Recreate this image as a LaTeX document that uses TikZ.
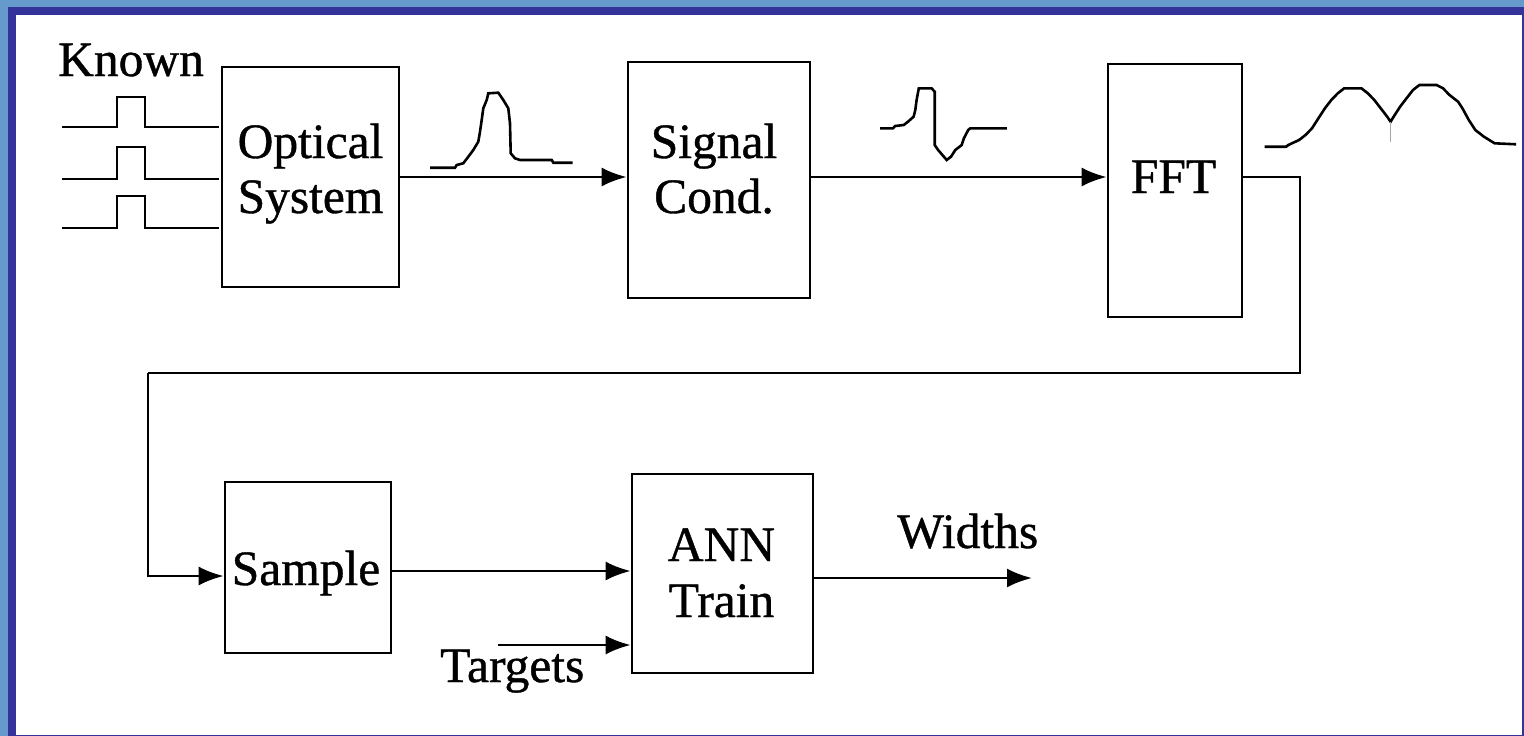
\documentclass[tikz,border=0pt]{standalone}
\usepackage{fontspec}
\setmainfont{Liberation Serif}[FakeBold=0.8]
\usetikzlibrary{arrows.meta}
\definecolor{lightblu}{HTML}{6699CC}
\definecolor{darkblu}{HTML}{333399}
\tikzset{
  blk/.style={draw=black, line width=2.7pt, inner sep=0pt, fill=none},
  lbl/.style={inner sep=0pt, anchor=base, font=\fontsize{49.5}{55}\selectfont},
  wire/.style={line width=2.6pt, draw=black},
  arr/.style={wire, -{Latex[length=25pt,width=19pt]}},
  wave/.style={line width=2.6pt, draw=black, line join=miter}
}
\begin{document}
\begin{tikzpicture}[x=1pt,y=-1pt]
% background frame
\fill[lightblu] (0,0) rectangle (1524,736);
\fill[darkblu] (8,7) rectangle (1524,736);
\fill[white] (16,15) rectangle (1521.8,734.6);
\useasboundingbox (0,0) rectangle (1524,736);

% blocks
\node[blk, minimum width=177pt, minimum height=220pt] (opt) at (310.5,177) {};
\node[blk, minimum width=182pt, minimum height=236pt] (sig) at (719,180) {};
\node[blk, minimum width=134pt, minimum height=253pt] (fft) at (1175,190.5) {};
\node[blk, minimum width=166pt, minimum height=171pt] (smp) at (308,567.5) {};
\node[blk, minimum width=181pt, minimum height=199pt] (ann) at (722.5,573.5) {};

% labels
\node[lbl] (tOpt1) at (310.5,158) {Optical};
\node[lbl] (tOpt2) at (310.5,213) {System};
\node[lbl] (tSig1) at (714,158) {Signal};
\node[lbl] (tSig2) at (714,213) {Cond.};
\node[lbl] (tFFT) at (1173.5,193) {FFT};
\node[lbl] (tSmp) at (306,585) {Sample};
\node[lbl] (tAnn1) at (721.5,561) {ANN};
\node[lbl] (tAnn2) at (721.5,617) {Train};
\node[lbl, anchor=base west] (known) at (58,76) {Known};
\node[lbl, anchor=base west] (widths) at (897,548) {Widths};
\node[lbl, anchor=base west] (targets) at (440,682) {Targets};

% input pulses
\foreach \yb/\yt in {127/97, 179/147, 228/196}{
  \draw[wave] (62,\yb) -- (117,\yb) -- (117,\yt) -- (145,\yt) -- (145,\yb) -- (219,\yb);
}

% connectors
\coordinate (c1) at (1300,373);
\coordinate (c2) at (148,373);
\coordinate (tgt) at (498,645);
\coordinate (wEnd) at (1032,578);
\draw[arr] (opt.east) -- (opt.east -| sig.west);
\draw[arr] (opt.east -| sig.east) -- (opt.east -| fft.west);
\draw[wire] (opt.east -| fft.east) -| (c1) -- (c2);
\draw[arr] (c2) |- ([yshift=-8.5pt]smp.west);
\draw[arr] ([yshift=-3.5pt]smp.east) -- ([yshift=2.5pt]ann.west);
\draw[arr] (tgt) -- (tgt -| ann.west);
\draw[arr] (ann.east |- wEnd) -- (wEnd);

% waveform 1: pulse
\draw[wave] (430,167.7) -- (455,167.7) -- (456.7,165) -- (463.3,163.3) -- (468.3,156.7) -- (473.3,150) -- (478.3,141.7) -- (480,131.7) -- (481.7,120) -- (483.3,108.3) -- (486.7,100) -- (488.3,93.3) -- (498.3,92.7) -- (503.3,100) -- (508.3,108.3) -- (510,123.3) -- (510.7,153.3) -- (515,158.3) -- (520,160) -- (551.7,160) -- (553.3,162.7) -- (572.7,162.7);

% waveform 2: conditioned signal
\draw[wave] (880.1,128.3) -- (893,128.3) -- (895.1,126) -- (903.7,125) -- (908,121.7) -- (913.6,116.7) -- (915.3,110) -- (916.6,100) -- (918.8,88.3) -- (931.6,88.3) -- (934.7,91.7) -- (934.7,145) -- (938.1,150) -- (942.4,155) -- (946.7,160) -- (951,156.7) -- (955.3,150) -- (961.7,145) -- (963.9,138.3) -- (968.2,130) -- (970.3,128.3) -- (1006.9,128.3);

% waveform 3: spectrum
\draw[wave] (1264.7,146.7) -- (1286.2,146.7) -- (1288.3,145) -- (1299.1,140) -- (1305.5,135) -- (1312,128.3) -- (1318.4,118.3) -- (1324.9,108.3) -- (1331.3,100) -- (1337.8,93.3) -- (1344.2,88.3) -- (1361.4,88.3) -- (1367.8,93.3) -- (1374.3,100) -- (1380.7,108.3) -- (1387.2,116.7) -- (1390.6,121.7) -- (1393.6,116.7) -- (1400.1,106.7) -- (1406.5,98.3) -- (1413,90) -- (1419.4,85) -- (1436.6,85) -- (1443,88.3) -- (1449.5,95) -- (1458.1,101.7) -- (1462.4,108.3) -- (1468.8,120) -- (1475.3,130) -- (1483.9,136.7) -- (1494.6,143.3) -- (1516.1,144.3);
\draw[line width=1.5pt, gray!70] (1390.6,122) -- (1390.6,141.7);
\end{tikzpicture}
\end{document}
